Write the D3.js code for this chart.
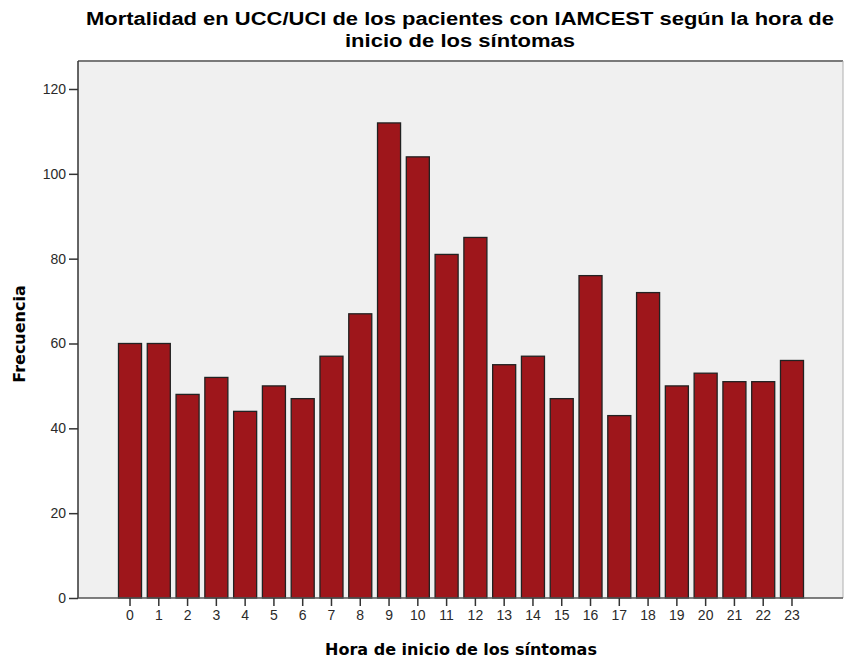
<!DOCTYPE html>
<html>
<head>
<meta charset="utf-8">
<script src="https://cdn.jsdelivr.net/npm/d3@7"></script>
<style>
  body { margin: 0; background: #fff; }
  svg { display: block; }
</style>
</head>
<body>
<div id="chart"></div>
<script>
// valeurs
const hours = d3.range(0, 24).map(String);
const counts = [60, 60, 48, 52, 44, 50, 47, 57, 67, 112, 104, 81, 85, 55, 57, 47, 76, 43, 72, 50, 53, 51, 51, 56];
const yTicks = [0, 20, 40, 60, 80, 100, 120];

const titleLines = ["Mortalidad en UCC/UCI de los pacientes con IAMCEST según la hora de", "inicio de los síntomas"];
const xTitle = "Hora de inicio de los síntomas";
const yTitle = "Frecuencia";

const width = 844;
const height = 660;
const margin = { top: 61, right: 1, bottom: 62, left: 78 };

const svg = d3.select("#chart").append("svg")
    .attr("width", width)
    .attr("height", height);

const innerW = width - margin.left - margin.right;
const innerH = height - margin.top - margin.bottom;

const g = svg.append("g").attr("transform", `translate(${margin.left},${margin.top})`);

// fond gris de la zone de tracé
g.append("rect")
    .attr("width", innerW)
    .attr("height", innerH)
    .attr("fill", "#f0f0f0");
g.append("line").attr("x1", 0).attr("x2", innerW).attr("y1", 0).attr("y2", 0)
    .attr("stroke", "#7a7a7a").attr("stroke-width", 2);
g.append("line").attr("x1", innerW).attr("x2", innerW).attr("y1", 0).attr("y2", innerH)
    .attr("stroke", "#b0b0b0").attr("stroke-width", 1);

const y = d3.scaleLinear().domain([0, 126.6]).range([innerH, 0]);
const x = d3.scaleBand().domain(hours)
    .range([40.5, 725.5])
    .paddingInner(0.2)
    .paddingOuter(0);

g.selectAll("rect.bar")
    .data(counts)
    .enter()
    .append("rect")
    .attr("class", "bar")
    .attr("x", (d, i) => x(hours[i]))
    .attr("y", d => y(d))
    .attr("width", x.bandwidth())
    .attr("height", d => y(0) - y(d))
    .attr("fill", "#9e161b")
    .attr("stroke", "#222")
    .attr("stroke-width", 1.3);

const yAxis = d3.axisLeft(y).tickValues(yTicks).tickSize(9).tickPadding(3);
const yG = g.append("g").call(yAxis);
yG.select(".domain").attr("d", `M0,0V${innerH}`).attr("stroke", "#333").attr("stroke-width", 1.5);
yG.selectAll(".tick line").attr("stroke", "#333").attr("stroke-width", 1.5);
yG.selectAll("text").style("font-family", "Liberation Sans, Arial, sans-serif").style("font-size", "14px").attr("fill", "#2a2a2a");

const xAxis = d3.axisBottom(x).tickSize(8).tickPadding(4);
const xG = g.append("g").attr("transform", `translate(0,${innerH})`).call(xAxis);
xG.select(".domain").attr("d", `M0,0H${innerW}`).attr("stroke", "#555").attr("stroke-width", 1.5);
xG.selectAll(".tick line").attr("stroke", "#333").attr("stroke-width", 1.5);
xG.selectAll("text").style("font-family", "Liberation Sans, Arial, sans-serif").style("font-size", "14px").attr("fill", "#2a2a2a");

// titres
svg.append("text")
    .attr("x", 460)
    .attr("y", 25)
    .attr("text-anchor", "middle")
    .style("font-family", "Liberation Sans, Arial, sans-serif")
    .style("font-weight", "bold")
    .style("font-size", "18px")
    .attr("textLength", 748)
    .attr("lengthAdjust", "spacingAndGlyphs")
    .text(titleLines[0]);
svg.append("text")
    .attr("x", 460)
    .attr("y", 47)
    .attr("text-anchor", "middle")
    .style("font-family", "Liberation Sans, Arial, sans-serif")
    .style("font-weight", "bold")
    .style("font-size", "18px")
    .attr("textLength", 230)
    .attr("lengthAdjust", "spacingAndGlyphs")
    .text(titleLines[1]);

svg.append("text")
    .attr("x", 461)
    .attr("y", 655)
    .attr("text-anchor", "middle")
    .style("font-family", "DejaVu Sans, sans-serif")
    .style("font-weight", "bold")
    .style("font-size", "16px")
    .text(xTitle);

svg.append("text")
    .attr("transform", "translate(25,334) rotate(-90)")
    .attr("text-anchor", "middle")
    .style("font-family", "DejaVu Sans, sans-serif")
    .style("font-weight", "bold")
    .style("font-size", "16px")
    .text(yTitle);
</script>
</body>
</html>
